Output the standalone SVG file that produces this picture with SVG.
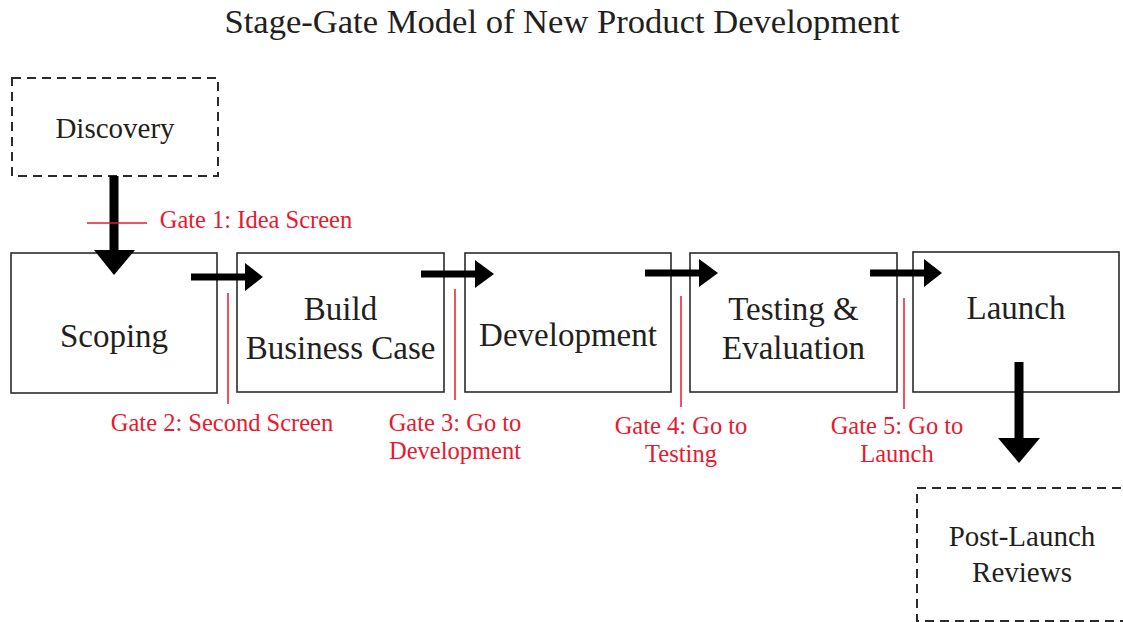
<svg xmlns="http://www.w3.org/2000/svg" width="1123" height="622" viewBox="0 0 1123 622">
<style>
.box{fill:#fff;stroke:#2b2b2b;stroke-width:1.6}
.dash{fill:#fff;stroke:#2b2b2b;stroke-width:2;stroke-dasharray:9 6}
.t{font-family:"Liberation Serif","Times New Roman",serif;fill:#231f20;text-anchor:middle}
.big{font-size:33px}
.mid{font-size:29px}
.g{font-family:"Liberation Serif","Times New Roman",serif;fill:#e8192f;font-size:24.5px;text-anchor:middle}
.gl{stroke:#e8192f;stroke-width:1.5;fill:none}
.a{fill:#000}
</style>
<rect width="1123" height="622" fill="#fff"/>
<text class="t" x="562" y="33" font-size="34.6">Stage-Gate Model of New Product Development</text>
<g id="discovery"><rect class="dash" x="12" y="78" width="206" height="98"/><text class="t mid" x="115" y="138">Discovery</text></g>
<g id="scoping"><rect class="box" x="11" y="253" width="206" height="140"/><text class="t big" x="114" y="347">Scoping</text></g>
<g id="business"><rect class="box" x="237" y="253" width="207" height="139"/><text class="t big" x="340.5" y="320">Build</text><text class="t big" x="340.5" y="359">Business Case</text></g>
<g id="development"><rect class="box" x="465" y="253" width="206" height="139"/><text class="t big" x="568" y="346">Development</text></g>
<g id="testing"><rect class="box" x="690" y="253" width="207" height="139"/><text class="t big" x="793.5" y="320">Testing &amp;</text><text class="t big" x="793.5" y="359">Evaluation</text></g>
<g id="launch"><rect class="box" x="913" y="252" width="206" height="140"/><text class="t big" x="1016" y="319">Launch</text></g>
<g id="postlaunch"><rect class="dash" x="917" y="488" width="212" height="133"/><text class="t mid" x="1022" y="546">Post-Launch</text><text class="t mid" x="1022" y="582">Reviews</text></g>
<g id="connectors">
<rect class="a" x="109.5" y="176" width="9" height="75"/><polygon class="a" points="94,250 135,250 114,275"/>
<rect class="a" x="191" y="273.5" width="56" height="7"/><polygon class="a" points="245,263 245,291 263,277"/>
<rect class="a" x="421" y="270.5" width="56" height="7"/><polygon class="a" points="475,260 475,288 494,274"/>
<rect class="a" x="645" y="269.5" width="56" height="7"/><polygon class="a" points="699,259 699,287 718,273"/>
<rect class="a" x="870" y="269.5" width="56" height="7"/><polygon class="a" points="924,259 924,287 942,273"/>
<rect class="a" x="1014.5" y="362" width="9" height="77"/><polygon class="a" points="998,438 1040,438 1019,463"/>
</g>
<g id="gates">
<line class="gl" x1="87" y1="223" x2="147" y2="223"/><text class="g" x="256" y="228">Gate 1: Idea Screen</text>
<line class="gl" x1="228" y1="293" x2="228" y2="404"/><text class="g" x="222" y="431">Gate 2: Second Screen</text>
<line class="gl" x1="455" y1="289" x2="455" y2="400"/><text class="g" x="455" y="431">Gate 3: Go to</text><text class="g" x="455" y="459">Development</text>
<line class="gl" x1="681" y1="296" x2="681" y2="407"/><text class="g" x="681" y="434">Gate 4: Go to</text><text class="g" x="681" y="462">Testing</text>
<line class="gl" x1="904" y1="298" x2="904" y2="409"/><text class="g" x="897" y="434">Gate 5: Go to</text><text class="g" x="897" y="462">Launch</text>
</g>
</svg>
